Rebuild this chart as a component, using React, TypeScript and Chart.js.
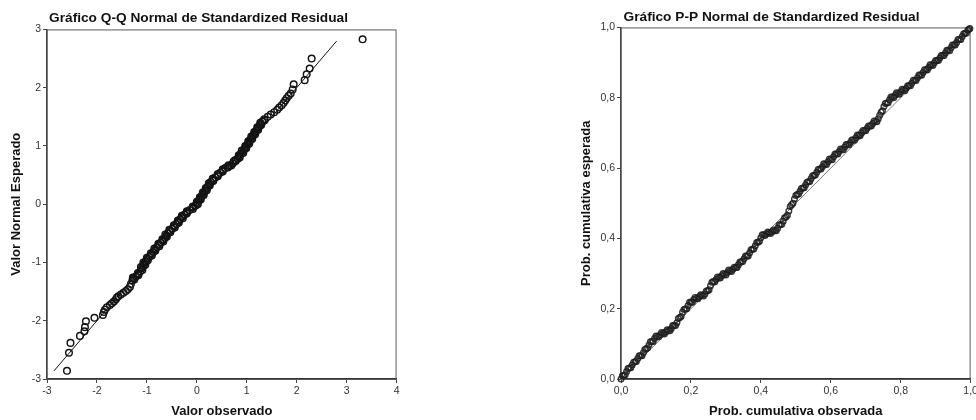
import React, { useEffect, useRef } from 'react';
import { Chart, registerables } from 'chart.js';

Chart.register(...registerables);

const FONT = '"Liberation Sans", Arial, Helvetica, sans-serif';

// ---------- Q-Q plot data (observed value, expected normal value) ----------
const qqObserved = [
  -2.60, -2.56, -2.53, -2.34, -2.25, -2.24, -2.22, -2.05, -1.88, -1.86,
  -1.84, -1.80, -1.74, -1.70, -1.66, -1.62, -1.60, -1.57, -1.52, -1.47,
  -1.42, -1.38, -1.34, -1.32, -1.29, -1.27, -1.22, -1.17, -1.13, -1.10,
  -1.07, -1.05,
  -1.02, -0.99, -0.95, -0.91, -0.87, -0.84, -0.80, -0.76, -0.72, -0.68,
  -0.64, -0.61, -0.58, -0.54, -0.49, -0.45, -0.41, -0.37, -0.33, -0.29,
  -0.25, -0.20, -0.14, -0.08, -0.02, 0.01, 0.04, 0.07, 0.10, 0.13,
  0.16, 0.19, 0.22, 0.25, 0.28, 0.33, 0.37, 0.42, 0.47, 0.52,
  0.57, 0.61, 0.66, 0.72, 0.78, 0.82, 0.85, 0.88, 0.92, 0.95,
  0.98, 1.01, 1.04, 1.07, 1.10, 1.13, 1.16, 1.19, 1.22, 1.25,
  1.28, 1.31, 1.35, 1.42, 1.48, 1.55, 1.61, 1.65, 1.70, 1.74,
  1.77, 1.80, 1.84, 1.88, 1.92, 1.94, 2.16, 2.20, 2.26, 2.30,
  3.32,
  // second row of cases inside the dense band
  -1.25, -1.28, -1.17, -1.18, -1.09, -1.12, -1.03, -1.07, -0.98, -1.00,
  -0.90, -0.92, -0.83, -0.85, -0.75, -0.77, -0.67, -0.69, -0.60, -0.63,
  -0.53, -0.55, -0.44, -0.46, -0.36, -0.38, -0.28, -0.30, -0.20, -0.20,
  -0.08, -0.08, 0.02, 0.00, 0.08, 0.06, 0.14, 0.12, 0.20, 0.18,
  0.26, 0.24, 0.33, 0.32, 0.42, 0.42, 0.52, 0.52, 0.62, 0.635,
  0.69, 0.74, 0.77, 0.86, 0.84, 0.93, 0.90, 0.99, 0.97, 1.05,
  1.03, 1.11, 1.09, 1.17, 1.15, 1.23, 1.21, 1.29, 1.27, 1.36,
];
const qqExpected = [
  -2.86, -2.55, -2.38, -2.26, -2.18, -2.11, -2.01, -1.95, -1.90, -1.85,
  -1.81, -1.77, -1.73, -1.70, -1.67, -1.63, -1.60, -1.58, -1.55, -1.52,
  -1.49, -1.46, -1.42, -1.37, -1.31, -1.27, -1.24, -1.20, -1.15, -1.10,
  -1.06, -1.02,
  -0.98, -0.94, -0.90, -0.86, -0.82, -0.78, -0.74, -0.70, -0.66, -0.62,
  -0.58, -0.54, -0.50, -0.46, -0.42, -0.38, -0.34, -0.30, -0.26, -0.22,
  -0.18, -0.14, -0.10, -0.06, -0.02, 0.02, 0.06, 0.10, 0.14, 0.18,
  0.22, 0.26, 0.30, 0.34, 0.38, 0.42, 0.46, 0.50, 0.54, 0.58,
  0.62, 0.64, 0.66, 0.70, 0.74, 0.78, 0.82, 0.86, 0.90, 0.94,
  0.98, 1.02, 1.06, 1.10, 1.14, 1.18, 1.22, 1.26, 1.30, 1.34,
  1.38, 1.42, 1.46, 1.50, 1.54, 1.58, 1.62, 1.66, 1.70, 1.74,
  1.78, 1.82, 1.86, 1.90, 1.97, 2.06, 2.13, 2.23, 2.33, 2.50,
  2.83,
  // second row of cases inside the dense band
  -1.29, -1.26, -1.22, -1.18, -1.13, -1.08, -1.04, -1.00, -0.96, -0.92,
  -0.88, -0.84, -0.80, -0.76, -0.72, -0.68, -0.64, -0.60, -0.56, -0.52,
  -0.48, -0.44, -0.40, -0.36, -0.32, -0.28, -0.24, -0.20, -0.16, -0.12,
  -0.08, -0.04, 0.00, 0.04, 0.08, 0.12, 0.16, 0.20, 0.24, 0.28,
  0.32, 0.36, 0.40, 0.44, 0.48, 0.52, 0.56, 0.60, 0.63, 0.67,
  0.665, 0.735, 0.76, 0.80, 0.84, 0.88, 0.92, 0.96, 1.00, 1.04,
  1.08, 1.12, 1.16, 1.20, 1.24, 1.28, 1.32, 1.36, 1.40, 1.44,
];
const qqLineX = [-2.86, 2.8];
const qqLineY = [-2.86, 2.8];
const qqXTicks = [-3, -2, -1, 0, 1, 2, 3, 4];
const qqYTicks = [-3, -2, -1, 0, 1, 2, 3];

// ---------- P-P plot data (observed cum. prob., expected cum. prob.) ----------
const ppObserved = [
  0.000, 0.008, 0.016, 0.024, 0.032, 0.040, 0.048, 0.056, 0.064, 0.072,
  0.080, 0.088, 0.096, 0.104, 0.112, 0.120, 0.128, 0.136, 0.144, 0.152,
  0.160, 0.168, 0.176, 0.184, 0.192, 0.200, 0.208, 0.216, 0.224, 0.232,
  0.240, 0.248, 0.256, 0.264, 0.272, 0.280, 0.288, 0.296, 0.304, 0.312,
  0.320, 0.328, 0.336, 0.344, 0.352, 0.360, 0.368, 0.376, 0.384, 0.392,
  0.400, 0.408, 0.416, 0.424, 0.432, 0.440, 0.448, 0.456, 0.464, 0.472,
  0.480, 0.488, 0.496, 0.504, 0.512, 0.520, 0.528, 0.536, 0.544, 0.552,
  0.560, 0.568, 0.576, 0.584, 0.592, 0.600, 0.608, 0.616, 0.624, 0.632,
  0.640, 0.648, 0.656, 0.664, 0.672, 0.680, 0.688, 0.696, 0.704, 0.712,
  0.720, 0.728, 0.736, 0.744, 0.752, 0.760, 0.768, 0.776, 0.784, 0.792,
  0.800, 0.808, 0.816, 0.824, 0.832, 0.840, 0.848, 0.856, 0.864, 0.872,
  0.880, 0.888, 0.896, 0.904, 0.912, 0.920, 0.928, 0.936, 0.944, 0.952,
  0.960, 0.968, 0.976, 0.984, 0.992, 0.998,
  // second row of cases inside the band
  0.004, 0.012, 0.020, 0.028, 0.036, 0.044, 0.052, 0.060, 0.068, 0.076,
  0.084, 0.092, 0.100, 0.108, 0.116, 0.124, 0.132, 0.140, 0.148, 0.156,
  0.164, 0.172, 0.180, 0.188, 0.196, 0.204, 0.212, 0.220, 0.228, 0.236,
  0.244, 0.252, 0.260, 0.268, 0.276, 0.284, 0.292, 0.300, 0.308, 0.316,
  0.324, 0.332, 0.340, 0.348, 0.356, 0.364, 0.372, 0.380, 0.388, 0.396,
  0.404, 0.412, 0.420, 0.428, 0.436, 0.444, 0.452, 0.460, 0.468, 0.476,
  0.484, 0.492, 0.500, 0.508, 0.516, 0.524, 0.532, 0.540, 0.548, 0.556,
  0.564, 0.572, 0.580, 0.588, 0.596, 0.604, 0.612, 0.620, 0.628, 0.636,
  0.644, 0.652, 0.660, 0.668, 0.676, 0.684, 0.692, 0.700, 0.708, 0.716,
  0.724, 0.732, 0.740, 0.748, 0.756, 0.764, 0.772, 0.780, 0.788, 0.796,
  0.804, 0.812, 0.820, 0.828, 0.836, 0.844, 0.852, 0.860, 0.868, 0.876,
  0.884, 0.892, 0.900, 0.908, 0.916, 0.924, 0.932, 0.940, 0.948, 0.956,
  0.964, 0.972, 0.980, 0.988, 0.995,
];
const ppExpected = [
  0.000, 0.010, 0.021, 0.031, 0.040, 0.049, 0.058, 0.066, 0.075, 0.086,
  0.097, 0.107, 0.115, 0.121, 0.126, 0.130, 0.134, 0.138, 0.144, 0.152,
  0.160, 0.175, 0.190, 0.199, 0.209, 0.218, 0.226, 0.230, 0.234, 0.238,
  0.242, 0.251, 0.265, 0.277, 0.283, 0.288, 0.294, 0.298, 0.303, 0.308,
  0.312, 0.317, 0.325, 0.333, 0.342, 0.350, 0.359, 0.369, 0.379, 0.389,
  0.402, 0.410, 0.413, 0.416, 0.419, 0.422, 0.429, 0.439, 0.449, 0.461,
  0.478, 0.496, 0.512, 0.525, 0.534, 0.543, 0.552, 0.561, 0.570, 0.579,
  0.588, 0.597, 0.604, 0.611, 0.618, 0.625, 0.632, 0.640, 0.647, 0.653,
  0.660, 0.666, 0.673, 0.680, 0.686, 0.693, 0.700, 0.706, 0.713, 0.720,
  0.727, 0.733, 0.740, 0.759, 0.775, 0.785, 0.794, 0.802, 0.807, 0.812,
  0.817, 0.822, 0.827, 0.834, 0.842, 0.849, 0.857, 0.865, 0.872, 0.880,
  0.886, 0.893, 0.899, 0.906, 0.913, 0.920, 0.927, 0.935, 0.942, 0.950,
  0.957, 0.966, 0.974, 0.983, 0.992, 0.997,
  // second row of cases inside the band
  0.009, 0.012, 0.030, 0.032, 0.048, 0.050, 0.066, 0.066, 0.084, 0.088,
  0.106, 0.107, 0.122, 0.120, 0.132, 0.128, 0.140, 0.137, 0.152, 0.152,
  0.172, 0.178, 0.198, 0.200, 0.218, 0.218, 0.232, 0.228, 0.240, 0.236,
  0.250, 0.254, 0.275, 0.276, 0.290, 0.287, 0.300, 0.296, 0.310, 0.306,
  0.318, 0.317, 0.333, 0.334, 0.350, 0.350, 0.368, 0.370, 0.388, 0.392,
  0.410, 0.408, 0.418, 0.414, 0.424, 0.422, 0.438, 0.440, 0.459, 0.466,
  0.491, 0.500, 0.522, 0.526, 0.542, 0.544, 0.560, 0.562, 0.578, 0.580,
  0.596, 0.597, 0.612, 0.610, 0.626, 0.624, 0.640, 0.640, 0.654, 0.652,
  0.667, 0.666, 0.680, 0.679, 0.694, 0.692, 0.707, 0.706, 0.720, 0.720,
  0.734, 0.732, 0.750, 0.763, 0.784, 0.786, 0.802, 0.800, 0.814, 0.810,
  0.824, 0.820, 0.834, 0.834, 0.850, 0.849, 0.865, 0.864, 0.880, 0.879,
  0.894, 0.892, 0.906, 0.906, 0.920, 0.920, 0.935, 0.934, 0.950, 0.950,
  0.966, 0.966, 0.982, 0.984, 0.995,
];
const ppLine = [0, 1];
const ppTicks = [0, 0.2, 0.4, 0.6, 0.8, 1.0];

const framePlugin = {
  id: 'frame',
  beforeDatasetsDraw(chart: any) {
    const { ctx, chartArea: a } = chart;
    ctx.save();
    ctx.strokeStyle = '#5a5a5a';
    ctx.lineWidth = 1;
    ctx.strokeRect(a.left, a.top + 0.5, a.right - a.left - 0.5, a.bottom - a.top);
    ctx.restore();
  },
};

function makeAxis(opts: {
  ticks: number[];
  min: number;
  max: number;
  title: string;
  fmt: (v: number) => string;
  horizontal: boolean;
  size: number;
  titlePadding: any;
}) {
  return {
    type: 'linear',
    min: opts.min,
    max: opts.max,
    afterBuildTicks: (s: any) => {
      s.ticks = opts.ticks.map((v) => ({ value: v }));
    },
    afterFit: (s: any) => {
      if (opts.horizontal) {
        s.height = opts.size;
        s.paddingRight = 0;
        s.paddingLeft = 0;
      } else {
        s.width = opts.size;
        s.paddingTop = 0;
        s.paddingBottom = 0;
      }
    },
    ticks: {
      font: { family: FONT, size: 10.5 },
      color: '#333',
      padding: 2,
      autoSkip: false,
      maxRotation: 0,
      callback: (v: any) => opts.fmt(Number(v)),
    },
    grid: {
      display: true,
      drawOnChartArea: false,
      drawTicks: true,
      tickLength: 4,
      color: '#444',
      lineWidth: 1,
    },
    border: { display: true, color: '#333', width: 1.5 },
    title: {
      display: true,
      text: opts.title,
      font: { family: FONT, size: 13, weight: 'bold' },
      color: '#111',
      padding: opts.titlePadding,
    },
  };
}

function qqConfig(): any {
  return {
    type: 'scatter',
    data: {
      datasets: [
        {
          data: qqObserved.map((x, i) => ({ x, y: qqExpected[i] })),
          showLine: false,
          pointStyle: 'circle',
          pointRadius: 3.3,
          pointBorderWidth: 1.45,
          borderColor: '#141414',
          backgroundColor: 'rgba(0,0,0,0)',
          pointBorderColor: '#141414',
          pointBackgroundColor: 'rgba(0,0,0,0)',
          clip: false,
        },
        {
          data: qqLineX.map((x, i) => ({ x, y: qqLineY[i] })),
          showLine: true,
          borderColor: '#111',
          borderWidth: 1,
          pointRadius: 0,
        },
      ],
    },
    options: {
      responsive: false,
      animation: false,
      devicePixelRatio: 1,
      events: [],
      layout: { padding: { top: 0, left: 0, right: 5, bottom: 0 } },
      plugins: {
        legend: { display: false },
        tooltip: { enabled: false },
        title: {
          display: true,
          text: 'Gráfico Q-Q Normal de Standardized Residual',
          font: { family: FONT, size: 13.7, weight: 'bold' },
          color: '#111',
          padding: { top: 10, bottom: 3 },
        },
      },
      scales: {
        x: makeAxis({
          ticks: qqXTicks, min: -3, max: 4, title: 'Valor observado',
          fmt: (v) => String(v), horizontal: true, size: 41,
          titlePadding: { top: 0, bottom: 1 },
        }),
        y: makeAxis({
          ticks: qqYTicks, min: -3, max: 3, title: 'Valor Normal Esperado',
          fmt: (v) => String(v), horizontal: false, size: 47,
          titlePadding: { top: 9, bottom: 0 },
        }),
      },
    },
    plugins: [framePlugin],
  };
}

const commaFmt = (v: number) => v.toFixed(1).replace('.', ',');

function ppConfig(): any {
  return {
    type: 'scatter',
    data: {
      datasets: [
        {
          data: ppObserved.map((x, i) => ({ x, y: ppExpected[i] })),
          showLine: false,
          pointStyle: 'circle',
          pointRadius: 2.8,
          pointBorderWidth: 1.4,
          borderColor: 'rgba(30,30,30,0.88)',
          backgroundColor: 'rgba(0,0,0,0)',
          pointBorderColor: 'rgba(30,30,30,0.88)',
          pointBackgroundColor: 'rgba(0,0,0,0)',
          clip: false,
        },
        {
          data: ppLine.map((x, i) => ({ x, y: ppLine[i] })),
          showLine: true,
          borderColor: '#777',
          borderWidth: 1,
          pointRadius: 0,
        },
      ],
    },
    options: {
      responsive: false,
      animation: false,
      devicePixelRatio: 1,
      events: [],
      layout: { padding: { top: 0, left: 0, right: 3, bottom: 0 } },
      plugins: {
        legend: { display: false },
        tooltip: { enabled: false },
        title: {
          display: true,
          text: 'Gráfico P-P Normal de Standardized Residual',
          font: { family: FONT, size: 13.7, weight: 'bold' },
          color: '#111',
          padding: { top: 9, bottom: 2 },
        },
      },
      scales: {
        x: makeAxis({
          ticks: ppTicks, min: 0, max: 1, title: 'Prob. cumulativa observada',
          fmt: commaFmt, horizontal: true, size: 41,
          titlePadding: { top: 0, bottom: 1 },
        }),
        y: makeAxis({
          ticks: ppTicks, min: 0, max: 1, title: 'Prob. cumulativa esperada',
          fmt: commaFmt, horizontal: false, size: 51,
          titlePadding: { top: 9, bottom: 0 },
        }),
      },
    },
    plugins: [framePlugin],
  };
}

function PlotCanvas({ makeConfig, left, width }: { makeConfig: () => any; left: number; width: number }) {
  const ref = useRef<HTMLCanvasElement>(null);
  useEffect(() => {
    if (!ref.current) return;
    const chart = new Chart(ref.current, makeConfig());
    return () => chart.destroy();
  }, [makeConfig]);
  return (
    <div style={{ position: 'absolute', left, top: 0, width, height: 420 }}>
      <canvas ref={ref} width={width} height={420} style={{ display: 'block', width, height: 420 }} />
    </div>
  );
}

export default function App() {
  return (
    <div
      style={{
        position: 'fixed',
        left: 0,
        top: 0,
        width: 976,
        height: 420,
        background: '#fff',
        overflow: 'hidden',
      }}
    >
      <PlotCanvas makeConfig={qqConfig} left={0} width={402} />
      <PlotCanvas makeConfig={ppConfig} left={570} width={406} />
    </div>
  );
}
